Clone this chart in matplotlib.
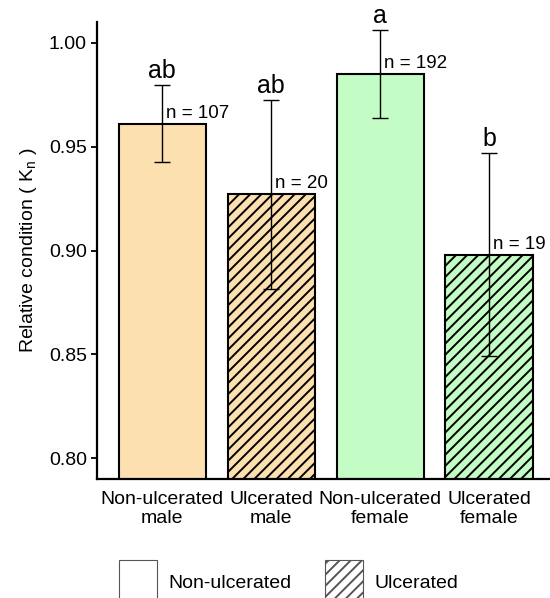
"""
Relative condition (Kn) by sex and ulcer status - bar chart with error bars.
"""

import matplotlib

matplotlib.use("Agg")
import matplotlib.pyplot as plt
from matplotlib.patches import Patch

plt.rcParams["font.family"] = ["Liberation Sans", "DejaVu Sans"]
plt.rcParams["hatch.linewidth"] = 1.4

GROUPS = ["Non-ulcerated\nmale", "Ulcerated\nmale", "Non-ulcerated\nfemale", "Ulcerated\nfemale"]
KN_MEAN = [0.961, 0.927, 0.985, 0.898]
KN_ERR = [0.0185, 0.0455, 0.021, 0.049]
N_FISH = [107, 20, 192, 19]
LETTERS = ["ab", "ab", "a", "b"]
ULCERATED = [False, True, False, True]
COLORS = ["#fde0b0", "#fde0b0", "#c3fdc5", "#c3fdc5"]

fig = plt.figure(figsize=(5.5, 5.98), dpi=100)
ax = fig.add_axes([97 / 550, 1 - 479 / 598, 1 - 97 / 550, (479 - 22) / 598])

x = list(range(len(GROUPS)))
for i in x:
    ax.bar(i, KN_MEAN[i], width=0.8, bottom=0, color=COLORS[i], edgecolor="black",
           linewidth=1.5, hatch="///" if ULCERATED[i] else None, zorder=2)
ax.errorbar(x, KN_MEAN, yerr=KN_ERR, fmt="none", ecolor="black", elinewidth=1.0,
            capsize=5.8, capthick=1.0, zorder=3)

for i in x:
    ax.annotate(f"n = {N_FISH[i]}", xy=(i, KN_MEAN[i]), xytext=(4, 2),
                textcoords="offset pixels", ha="left", va="bottom", fontsize=13.5)
    ax.annotate(LETTERS[i], xy=(i, KN_MEAN[i] + KN_ERR[i]), xytext=(0, 2),
                textcoords="offset pixels", ha="center", va="bottom", fontsize=18)

ax.set_ylim(0.790, 1.010)
ax.set_xlim(-0.6, 3.56)
ax.set_yticks([0.80, 0.85, 0.90, 0.95, 1.00])
ax.set_yticklabels(["0.80", "0.85", "0.90", "0.95", "1.00"])
ax.set_xticks(x)
ax.set_xticklabels(GROUPS, linespacing=1.15)
ax.tick_params(axis="y", labelsize=14, length=4.3, width=1.3, pad=3)
ax.tick_params(axis="x", labelsize=14, length=0, pad=9)
ax.set_ylabel("Relative condition ( K$_\\mathregular{n}$ )", fontsize=14, labelpad=7)

for side in ["top", "right"]:
    ax.spines[side].set_visible(False)
for side in ["left", "bottom"]:
    ax.spines[side].set_linewidth(1.6)

handles = [
    Patch(facecolor="white", edgecolor="#555555", linewidth=0.8, label="Non-ulcerated"),
    Patch(facecolor="white", edgecolor="#555555", linewidth=0.8, hatch="///", label="Ulcerated"),
]
fig.legend(handles=handles, loc="center", bbox_to_anchor=(0.5245, 0.027), ncol=2,
           frameon=False, fontsize=14, handlelength=1.95, handleheight=3.05,
           columnspacing=1.75, handletextpad=0.57, borderpad=0)

fig.savefig("out.png", dpi=100)
